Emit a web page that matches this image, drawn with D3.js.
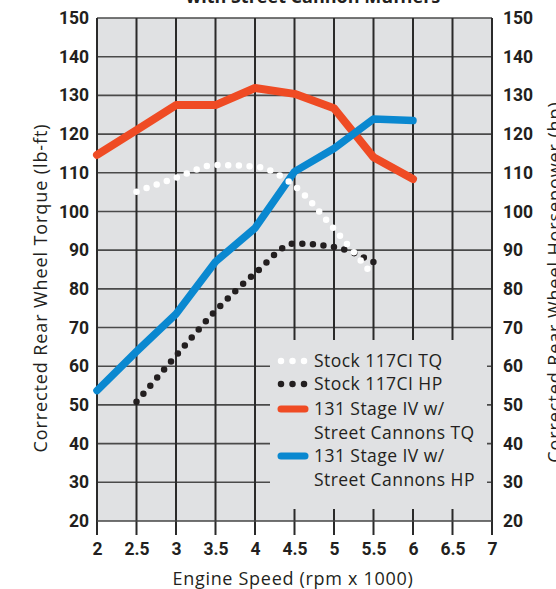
<!DOCTYPE html>
<html><head><meta charset="utf-8">
<script src="https://cdn.jsdelivr.net/npm/d3@7"></script>
<style>
html,body{margin:0;padding:0;background:#fff;}
svg{display:block;}
text{font-family:"Open Sans", Roboto, sans-serif;fill:#231f20;}
</style></head>
<body><svg id="c" width="556" height="589"></svg>
<script>
// ---- data ----
const rpm = [2, 2.5, 3, 3.5, 4, 4.5, 5, 5.5, 6];
const stageTQ = [114.6, 121, 127.5, 127.5, 131.9, 130.4, 126.7, 114, 108.4];
const stageHP = [53.7, 63.8, 73.5, 87, 95.7, 110.3, 116.3, 123.9, 123.5];
const stockRpm = [2.5, 3, 3.5, 4, 4.5, 5, 5.5];
const stockTQ = [105.1, 108.7, 112, 111.6, 106.6, 95.5, 83.3];
const stockHpRpm = [2.5, 3, 3.5, 4, 4.5, 5, 5.55];
const stockHP = [50.8, 62.7, 74.3, 84, 91.7, 90.8, 86.4];
const xTicks = [2, 2.5, 3, 3.5, 4, 4.5, 5, 5.5, 6, 6.5, 7];
const yTicks = [20, 30, 40, 50, 60, 70, 80, 90, 100, 110, 120, 130, 140, 150];
const legendLabels = [["Stock 117CI TQ"], ["Stock 117CI HP"], ["131 Stage IV w/", "Street Cannons TQ"], ["131 Stage IV w/", "Street Cannons HP"]];
const titleText = "with Street Cannon Mufflers";
const xTitle = "Engine Speed (rpm x 1000)";
const yTitleL = "Corrected Rear Wheel Torque (lb-ft)";
const yTitleR = "Corrected Rear Wheel Horsepower (hp)";

const C = {bg:"#e0e1e3", red:"#ef4b24", blue:"#0a88d0", dark:"#231f20", grid:"#2a2a2a", hgrid:"#4a4a4a"};
const L = 97, R = 492, T = 18, B = 521;
const svg = d3.select("#c");
const x = d3.scaleLinear().domain([2, 7]).range([L, R]);
const y = d3.scaleLinear().domain([20, 150]).range([B, T]);

// title (clipped at top, as in the reference)
svg.append("text").attr("x", 313).attr("y", 3).attr("text-anchor", "middle")
  .style("font-size", "18px").style("font-weight", 700).text(titleText);

// background
svg.append("rect").attr("x", L).attr("y", T).attr("width", R - L).attr("height", B - T).attr("fill", C.bg);

// horizontal grid
svg.append("g").selectAll("line").data(yTicks.filter(v => v > 20)).join("line")
  .attr("x1", L).attr("x2", R).attr("y1", d => y(d)).attr("y2", d => y(d))
  .attr("stroke", C.hgrid).attr("stroke-width", 1.6);
// vertical grid (extends to tick)
svg.append("g").selectAll("line").data(xTicks).join("line")
  .attr("x1", d => x(d)).attr("x2", d => x(d)).attr("y1", T).attr("y2", B + 14)
  .attr("stroke", C.grid).attr("stroke-width", 2);
// bottom axis line
svg.append("line").attr("x1", L).attr("x2", R).attr("y1", B).attr("y2", B)
  .attr("stroke", "#444").attr("stroke-width", 1.4);

// legend box covering grid
const lg = {x: 270, y: 340, w: 217, h: 169};
svg.append("rect").attr("x", lg.x).attr("y", lg.y).attr("width", lg.w).attr("height", lg.h).attr("fill", C.bg);

// axes labels
const yAxisL = d3.axisLeft(y).tickValues(yTicks).tickSize(0).tickPadding(8);
const gL = svg.append("g").attr("transform", `translate(${L},0)`).call(yAxisL);
const yAxisR = d3.axisRight(y).tickValues(yTicks).tickSize(0).tickPadding(11);
const gR = svg.append("g").attr("transform", `translate(${R},0)`).call(yAxisR);
const xAxis = d3.axisBottom(x).tickValues(xTicks).tickSize(0).tickPadding(22).tickFormat(d3.format(""));
const gB = svg.append("g").attr("transform", `translate(0,${B})`).call(xAxis);
[gL, gR, gB].forEach(g => {
  g.select(".domain").remove();
  g.selectAll("text").style("font-size", "17.5px").style("font-weight", 700)
    .style("font-family", "Roboto, sans-serif").attr("fill", C.dark);
});

// lines
const line = (xs, ys, curve) => d3.line().x((d, i) => x(xs[i])).y(d => y(d)).curve(curve)(ys);
svg.append("path").attr("d", line(rpm, stageTQ, d3.curveLinear)).attr("fill", "none")
  .attr("stroke", C.red).attr("stroke-width", 8).attr("stroke-linejoin", "round").attr("stroke-linecap", "round");
svg.append("path").attr("d", line(rpm, stageHP, d3.curveLinear)).attr("fill", "none")
  .attr("stroke", C.blue).attr("stroke-width", 7.5).attr("stroke-linejoin", "round").attr("stroke-linecap", "round");
svg.append("path").attr("d", line(stockHpRpm, stockHP, d3.curveMonotoneX)).attr("fill", "none")
  .attr("stroke", C.dark).attr("stroke-width", 6.5).attr("stroke-linecap", "round").attr("stroke-dasharray", "0 10.6");
svg.append("path").attr("d", line(stockRpm, stockTQ, d3.curveMonotoneX)).attr("fill", "none")
  .attr("stroke", "#fff").attr("stroke-width", 6.5).attr("stroke-linecap", "round").attr("stroke-dasharray", "0 10.7");

// legend
const rowY = [361, 384, 409, 456];
const sw = [{type:"dot", c:"#fff"}, {type:"dot", c:C.dark}, {type:"line", c:C.red}, {type:"line", c:C.blue}];
legendLabels.forEach((lines, i) => {
  const cy = rowY[i];
  if (sw[i].type === "dot") {
    svg.append("line").attr("x1", 281).attr("x2", 305).attr("y1", cy).attr("y2", cy)
      .attr("stroke", sw[i].c).attr("stroke-width", 6.5).attr("stroke-linecap", "round").attr("stroke-dasharray", "0 11.5");
  } else {
    svg.append("line").attr("x1", 281).attr("x2", 305).attr("y1", cy).attr("y2", cy)
      .attr("stroke", sw[i].c).attr("stroke-width", 7).attr("stroke-linecap", "round");
  }
  lines.forEach((t, j) => {
    svg.append("text").attr("x", 314).attr("y", cy + 6 + j * 23.5)
      .style("font-size", "17.5px").style("letter-spacing", "0.45px").text(t);
  });
});

// axis titles
svg.append("text").attr("x", 293).attr("y", 585).attr("text-anchor", "middle")
  .style("font-size", "18px").style("letter-spacing", "0.7px").attr("fill", "#333").text(xTitle);
svg.append("text").attr("transform", "translate(47,288) rotate(-90)").attr("text-anchor", "middle")
  .style("font-size", "18px").style("letter-spacing", "0.9px").attr("fill", "#333").text(yTitleL);
svg.append("text").attr("transform", "translate(561,282) rotate(-90)").attr("text-anchor", "middle")
  .style("font-size", "18px").style("letter-spacing", "0.9px").attr("fill", "#333").text(yTitleR);
</script></body></html>
